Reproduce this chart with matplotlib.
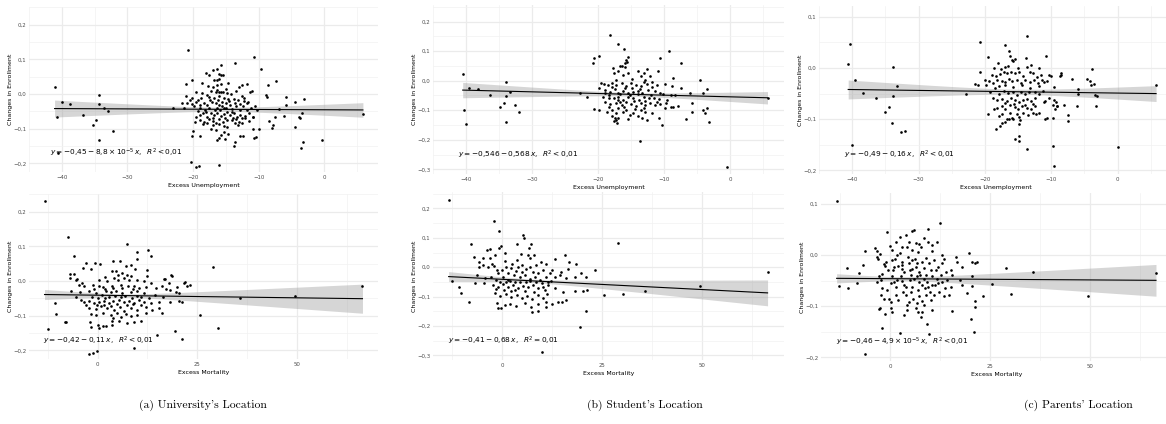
import numpy as np
import matplotlib
matplotlib.use("Agg")
import matplotlib.pyplot as plt
from matplotlib.ticker import FuncFormatter

# ---------------- data ----------------
univ_unemp = [
    (-41.1, 0.020), (-40.7, -0.067), (-40.0, -0.023), (-38.7, -0.028), (-36.8, -0.062), (-40.6, -0.170),
    (-35.3, -0.089), (-34.8, -0.075), (-34.3, -0.004), (-34.4, -0.029), (-33.6, -0.039), (-33.0, -0.048),
    (-34.3, -0.133), (-32.2, -0.107), (-23.1, -0.039), (-20.8, 0.127),
    (-10.7, 0.107), (-9.6, 0.073), (-7.4, 0.037), (-8.5, 0.027), (-5.9, -0.010), (-5.8, -0.031), (-4.4, -0.023),
    (-3.1, -0.014), (-6.9, -0.043), (-7.5, -0.067), (-6.1, -0.063), (-4.4, -0.094), (-3.9, -0.065), (-3.7, -0.070),
    (-3.4, -0.055), (-3.2, -0.138), (-3.6, -0.157), (-0.4, -0.133), (5.9, -0.057), (-8.4, -0.079), (-7.8, -0.090),
    (-8.0, -0.097), (-8.7, -0.010), (-8.8, -0.004), (-10.2, -0.046), (-10.7, -0.128), (-10.4, -0.123),
    (-10.8, -0.102), (-10.0, -0.102), (-10.9, -0.065),
    (-20.3, -0.195), (-19.6, -0.211), (-19.1, -0.209), (-16.0, -0.206), (-20.1, -0.120),
    (-13.6, 0.090), (-15.8, 0.083), (-16.3, 0.071), (-17.0, 0.069), (-18.0, 0.060), (-17.5, 0.054), (-16.1, 0.058),
    (-15.8, 0.055), (-15.5, 0.055), (-16.0, 0.042), (-16.3, 0.040), (-16.8, 0.040), (-20.1, 0.040), (-21.1, 0.028),
    (-18.6, 0.031), (-14.6, 0.032), (-15.8, 0.028), (-16.3, 0.027), (-17.7, 0.024), (-17.0, 0.020), (-12.5, 0.027),
    (-11.8, 0.029), (-13.0, 0.020), (-19.6, 0.006), (-18.7, 0.003), (-17.9, -0.002), (-16.5, 0.006), (-16.1, 0.005),
    (-15.8, 0.006), (-15.5, 0.005), (-14.8, 0.003), (-14.2, 0.000), (-11.3, 0.006), (-11.0, 0.008), (-12.6, -0.005),
    (-12.2, -0.012), (-21.0, -0.007), (-20.2, -0.012), (-19.2, -0.017), (-17.5, -0.009), (-16.8, -0.012),
    (-16.0, -0.007), (-15.3, -0.012), (-14.6, -0.015), (-13.8, -0.013), (-13.1, -0.017), (-11.6, -0.022),
    (-21.7, -0.026), (-20.9, -0.025), (-20.1, -0.028), (-19.5, -0.022), (-19.0, -0.031), (-18.3, -0.025),
    (-17.8, -0.031), (-17.1, -0.022), (-16.5, -0.026), (-16.0, -0.031), (-15.6, -0.022), (-15.0, -0.026),
    (-14.3, -0.031), (-13.6, -0.025), (-12.9, -0.028), (-12.4, -0.034), (-11.7, -0.026), (-10.6, -0.036),
    (-19.0, -0.041), (-17.5, -0.041), (-16.3, -0.041), (-15.3, -0.041), (-14.1, -0.044),
    (-19.2, -0.048), (-18.5, -0.054), (-18.0, -0.051), (-17.3, -0.056), (-16.8, -0.060), (-16.3, -0.054),
    (-15.8, -0.063), (-15.3, -0.058), (-14.8, -0.051), (-14.3, -0.060), (-13.8, -0.056), (-13.3, -0.065),
    (-12.9, -0.060), (-12.1, -0.063), (-11.4, -0.056), (-10.9, -0.065), (-19.7, -0.080), (-19.0, -0.075),
    (-18.3, -0.080), (-17.5, -0.073), (-17.0, -0.077), (-16.5, -0.083), (-16.0, -0.073), (-15.5, -0.080),
    (-14.8, -0.075), (-14.1, -0.075), (-13.5, -0.073), (-13.0, -0.080), (-12.6, -0.070), (-12.1, -0.070),
    (-18.5, -0.087), (-17.8, -0.085), (-17.0, -0.090), (-16.0, -0.087), (-15.3, -0.093), (-14.8, -0.096),
    (-13.6, -0.085), (-13.1, -0.090), (-20.0, -0.106), (-17.3, -0.102), (-16.5, -0.104), (-15.3, -0.109),
    (-15.8, -0.119), (-14.7, -0.116), (-12.9, -0.122), (-12.4, -0.122), (-18.9, -0.121), (-16.3, -0.133),
    (-15.1, -0.131), (-16.0, -0.126), (-13.6, -0.138), (-13.8, -0.151),
    (-20.5, -0.018), (-19.8, -0.036), (-18.8, -0.012), (-18.1, -0.045), (-17.4, -0.018), (-16.7, -0.047),
    (-16.2, -0.017), (-15.6, -0.035), (-15.1, -0.068), (-14.5, -0.021), (-14.0, -0.052), (-13.4, -0.036),
    (-12.8, -0.046), (-12.3, -0.020), (-11.8, -0.045), (-11.2, -0.040), (-17.9, -0.066), (-16.9, -0.070),
    (-15.9, -0.046), (-14.9, -0.041), (-13.9, -0.068), (-12.5, -0.083), (-11.5, -0.078), (-18.9, -0.060),
    (-19.6, -0.066), (-21.4, -0.040), (-16.4, 0.012), (-14.9, 0.015), (-13.4, 0.008), (-17.2, 0.010),
]

univ_mort = [
    (-13.3, 0.232), (-7.5, 0.126), (-6.0, 0.073), (-6.8, 0.021), (-5.2, 0.006), (-10.6, -0.063), (-10.3, -0.094),
    (-8.1, -0.118), (-12.5, -0.138), (7.3, 0.107), (12.7, 0.090), (13.4, 0.071), (29.0, 0.040), (25.6, -0.099),
    (30.2, -0.137), (35.8, -0.050), (49.6, -0.044), (66.5, -0.015), (19.4, -0.145), (21.1, -0.167), (14.9, -0.155),
    (9.2, -0.192), (-2.1, -0.211), (-1.25, -0.207), (-0.2, -0.202), (23.25, -0.011), (21.9, -0.004), (18.5, 0.016),
    (16.9, 0.006), (-6.7, -0.030), (-4.75, -0.012), (-5.5, -0.045), (-3.9, -0.005),
    (9.8, 0.084), (-2.9, 0.052), (-0.7, 0.052), (0.7, 0.049), (-3.6, 0.038), (-1.7, 0.036), (3.9, 0.057), (5.7, 0.057),
    (7.1, 0.042), (8.3, 0.045), (9.8, 0.063), (12.3, 0.033), (9.3, 0.035), (3.75, 0.028), (4.6, 0.028), (5.2, 0.018),
    (6.25, 0.023), (7.5, 0.018), (8.3, 0.013), (12.5, 0.013), (-6.8, 0.009), (-6.0, 0.020), (-5.4, 0.004),
    (1.8, 0.011), (0.4, 0.004), (2.5, -0.001), (4.2, 0.009), (5.2, 0.004), (6.7, 0.009), (7.9, 0.004), (10.0, 0.004),
    (11.7, -0.001), (13.3, -0.006), (16.7, 0.006), (18.75, 0.013), (17.9, -0.006), (21.7, -0.006),
    (-3.3, -0.013), (-1.25, -0.011), (0.4, -0.013), (1.25, -0.018), (3.75, -0.015), (5.8, -0.011), (7.7, -0.013),
    (9.2, -0.015), (10.4, -0.020), (12.1, -0.018), (14.6, -0.020), (16.25, -0.015), (17.1, -0.022), (18.3, -0.025),
    (20.0, -0.018), (22.5, -0.015), (-4.3, -0.032), (-2.1, -0.030), (-0.4, -0.035), (2.1, -0.030), (3.3, -0.032),
    (4.6, -0.028), (6.25, -0.035), (8.3, -0.032), (10.0, -0.030), (11.7, -0.035), (19.6, -0.032), (20.4, -0.035),
    (-4.2, -0.054), (-3.3, -0.061), (-2.1, -0.057), (-0.8, -0.063), (0.4, -0.061), (1.7, -0.057), (2.9, -0.063),
    (4.0, -0.059), (5.4, -0.054), (6.7, -0.061), (7.9, -0.057), (9.2, -0.063), (10.4, -0.054), (11.7, -0.061),
    (13.3, -0.063), (15.4, -0.061), (18.3, -0.061), (20.4, -0.057), (21.25, -0.061),
    (-2.1, -0.078), (-0.4, -0.080), (0.8, -0.073), (2.5, -0.078), (4.2, -0.083), (5.7, -0.076), (6.7, -0.086),
    (8.3, -0.078), (9.8, -0.083), (12.1, -0.076), (13.75, -0.083), (15.4, -0.078), (16.25, -0.092),
    (-1.7, -0.095), (-0.4, -0.097), (1.25, -0.092), (3.3, -0.099), (5.0, -0.092), (7.1, -0.095), (8.3, -0.102),
    (10.0, -0.097), (12.1, -0.092), (-7.9, -0.118), (-1.8, -0.118), (0.0, -0.126), (2.1, -0.131), (3.75, -0.116),
    (5.4, -0.114), (7.3, -0.121), (9.2, -0.118), (10.8, -0.114), (-1.7, -0.134), (0.4, -0.136), (1.25, -0.131),
    (3.75, -0.126),
    (-1.5, -0.045), (0.2, -0.048), (1.0, -0.041), (2.0, -0.050), (3.0, -0.046), (4.5, -0.044), (5.9, -0.047),
    (7.0, -0.044), (8.6, -0.048), (9.9, -0.042), (11.0, -0.046), (12.8, -0.048), (14.5, -0.040), (16.5, -0.046),
    (-0.8, -0.022), (1.9, -0.024), (4.0, -0.020), (6.2, -0.021), (8.8, -0.024), (-2.8, -0.070), (-0.2, -0.069),
    (1.6, -0.068), (3.4, -0.071), (5.0, -0.067), (7.3, -0.069), (9.0, -0.067), (11.0, -0.070), (3.9, -0.108),
    (6.0, -0.105),
]

stud_unemp = [
    (-40.5, 0.022), (-40.3, -0.100), (-40.0, -0.148), (-39.5, -0.024), (-38.2, -0.028), (-36.3, -0.050),
    (-34.9, -0.089), (-34.3, -0.075), (-33.9, -0.003), (-33.9, -0.052), (-34.0, -0.140), (-33.3, -0.038),
    (-32.6, -0.083), (-31.9, -0.106), (-22.7, -0.041), (-21.6, -0.055), (-20.8, 0.059), (-20.6, 0.078),
    (-19.9, 0.085), (-20.6, -0.095), (-19.8, -0.100), (-18.1, 0.156), (-17.0, 0.124), (-16.0, 0.107), (-9.2, 0.100),
    (-10.6, 0.076), (-7.4, 0.061), (-4.6, 0.002), (-4.1, -0.041), (-3.5, -0.030), (-4.1, -0.098), (-3.7, -0.111),
    (-3.4, -0.092), (-3.1, -0.140), (-5.8, -0.075), (-5.7, -0.106), (-6.7, -0.131), (-0.4, -0.291), (5.7, -0.058),
    (-10.3, -0.151), (-13.6, -0.205), (-7.4, -0.026), (-6.0, -0.041),
    (-15.7, 0.070), (-15.4, 0.080), (-15.96, 0.061), (-15.6, 0.064), (-16.7, 0.048), (-16.3, 0.050), (-15.96, 0.045),
    (-17.7, 0.042), (-16.9, 0.031), (-15.5, 0.027), (-16.2, 0.019), (-17.5, 0.025), (-13.9, 0.034), (-13.05, 0.027),
    (-12.6, 0.039), (-10.97, 0.034), (-12.1, 0.014), (-13.4, 0.016), (-12.8, 0.002), (-11.75, -0.003),
    (-11.1, -0.015), (-9.9, -0.011), (-8.8, -0.018), (-8.6, 0.010), (-19.1, -0.011), (-18.5, -0.015), (-19.5, -0.009),
    (-17.9, -0.009), (-17.2, -0.015), (-16.4, -0.009), (-15.7, -0.018), (-15.0, -0.009), (-14.3, -0.015),
    (-13.5, -0.018), (-12.6, -0.011), (-11.8, -0.020), (-19.8, -0.026), (-18.9, -0.032), (-18.1, -0.038),
    (-17.4, -0.030), (-16.9, -0.041), (-16.2, -0.034), (-15.5, -0.043), (-14.7, -0.038), (-14.0, -0.034),
    (-13.3, -0.041), (-12.4, -0.032), (-11.4, -0.034), (-10.6, -0.041), (-19.3, -0.055), (-18.4, -0.049),
    (-17.6, -0.060), (-16.9, -0.055), (-16.2, -0.064), (-15.5, -0.055), (-14.7, -0.060), (-13.8, -0.066),
    (-13.05, -0.055), (-12.3, -0.060), (-11.1, -0.072), (-10.2, -0.045), (-9.7, -0.075), (-10.6, -0.080),
    (-11.4, -0.083), (-18.9, -0.072), (-18.1, -0.080), (-17.2, -0.075), (-16.4, -0.083), (-15.7, -0.072),
    (-15.0, -0.080), (-14.3, -0.086), (-13.5, -0.077), (-12.8, -0.083), (-12.1, -0.075), (-18.6, -0.106),
    (-17.9, -0.100), (-16.9, -0.094), (-16.2, -0.106), (-15.7, -0.098), (-14.7, -0.109), (-13.5, -0.100),
    (-12.8, -0.106), (-11.8, -0.111), (-9.9, -0.091), (-9.0, -0.089), (-17.9, -0.120), (-17.4, -0.125),
    (-17.2, -0.134), (-17.55, -0.136), (-16.9, -0.128), (-15.5, -0.130), (-14.0, -0.120), (-13.3, -0.125),
    (-12.6, -0.132), (-10.7, -0.125), (-17.1, -0.145), (-8.9, -0.047), (-8.3, -0.050), (-7.9, -0.085),
    (-8.6, -0.090), (-9.5, -0.065),
    (-19.0, -0.042), (-18.3, -0.060), (-17.8, -0.022), (-17.0, -0.064), (-16.6, -0.044), (-15.9, -0.025),
    (-15.2, -0.048), (-14.5, -0.070), (-14.0, -0.046), (-13.6, -0.028), (-12.9, -0.068), (-12.0, -0.047),
    (-11.5, -0.058), (-10.8, -0.062), (-16.0, -0.088), (-14.4, -0.097), (-13.0, -0.092), (-18.3, -0.090),
    (-17.3, -0.110), (-15.2, -0.117), (-14.8, 0.005), (-13.0, -0.005), (-17.3, 0.002), (-16.6, -0.073),
    (-14.9, -0.024),
]

stud_mort = [
    (-13.3, 0.230), (-12.5, -0.047), (-10.6, -0.066), (-10.3, -0.089), (-8.1, -0.119), (-7.7, 0.078), (-6.7, -0.055),
    (-2.0, 0.156), (-0.75, 0.124), (29.0, 0.084), (25.5, -0.094), (30.1, -0.092), (35.7, -0.080), (49.4, -0.063),
    (66.3, -0.015), (19.4, -0.205), (10.0, -0.290), (21.1, -0.148), (23.2, -0.009),
    (5.25, 0.108), (5.5, 0.101), (-7.0, 0.036), (-3.75, 0.059), (-2.9, 0.061), (-1.8, 0.042), (-0.75, 0.067),
    (-0.2, 0.073), (0.7, 0.048), (3.8, 0.078), (6.75, 0.065), (7.3, 0.078), (6.5, 0.040), (3.8, 0.025), (6.9, 0.031),
    (-5.6, 0.002), (-4.75, 0.006), (-3.5, -0.001), (-2.1, 0.005), (-1.25, -0.009), (0.1, -0.009), (1.1, 0.002),
    (2.3, -0.003), (4.0, 0.002), (5.1, 0.008), (5.9, -0.006), (7.1, 0.002), (8.6, 0.008), (9.8, 0.017), (11.1, 0.010),
    (13.25, 0.028), (15.7, 0.042), (16.75, 0.017), (18.6, 0.010), (16.5, -0.006), (14.8, -0.015), (13.2, -0.032),
    (10.25, -0.009), (11.9, -0.020), (-6.2, -0.026), (-4.3, -0.038), (-2.7, -0.032), (-1.4, -0.043), (0.25, -0.035),
    (1.5, -0.043), (2.9, -0.028), (4.4, -0.035), (5.7, -0.026), (6.9, -0.040), (8.2, -0.032), (9.4, -0.043),
    (10.9, -0.035), (12.3, -0.047), (14.4, -0.026), (16.1, -0.038), (18.2, -0.032), (19.8, -0.020), (21.1, -0.032),
    (-4.5, -0.055), (-2.25, -0.060), (-1.0, -0.069), (0.25, -0.058), (1.5, -0.066), (2.75, -0.060), (4.0, -0.072),
    (5.25, -0.063), (6.5, -0.069), (7.75, -0.060), (9.0, -0.072), (10.25, -0.066), (11.5, -0.060), (13.2, -0.072),
    (15.25, -0.085), (18.2, -0.080), (20.25, -0.080), (21.3, -0.077), (-1.8, -0.089), (-0.6, -0.097), (1.1, -0.092),
    (2.3, -0.103), (3.75, -0.094), (5.1, -0.106), (6.25, -0.097), (7.6, -0.108), (9.0, -0.094), (10.25, -0.106),
    (11.25, -0.092), (14.0, -0.117), (16.1, -0.111), (15.1, -0.119), (-1.25, -0.123), (-0.2, -0.138), (0.7, -0.128),
    (1.9, -0.126), (3.6, -0.131), (5.7, -0.123), (7.3, -0.134), (9.0, -0.126), (10.9, -0.119), (11.1, -0.134),
    (12.4, -0.126), (-1.0, -0.140), (7.6, -0.153), (9.1, -0.148), (-5.6, 0.019), (-4.75, 0.031), (-3.0, 0.030),
    (-2.5, 0.011),
    (-0.5, -0.050), (1.0, -0.052), (2.0, -0.047), (3.2, -0.050), (4.6, -0.049), (6.0, -0.052), (7.0, -0.048),
    (8.5, -0.051), (10.0, -0.054), (11.6, -0.050), (-1.5, -0.075), (0.6, -0.079), (2.2, -0.082), (3.2, -0.077),
    (5.7, -0.080), (8.0, -0.083), (10.8, -0.078), (-0.9, -0.020), (1.5, -0.020), (3.4, -0.014), (5.1, -0.017),
    (7.7, -0.018), (9.0, -0.020), (12.6, -0.009), (0.7, 0.020), (2.6, 0.012), (4.7, 0.045), (8.0, 0.040),
]

par_unemp = [
    (-40.6, 0.007), (-40.3, 0.046), (-40.1, -0.150), (-39.5, -0.023), (-38.3, -0.049), (-36.4, -0.059),
    (-35.0, -0.086), (-34.4, -0.076), (-34.0, -0.107), (-33.9, 0.001), (-33.9, -0.054), (-33.3, -0.036),
    (-32.7, -0.125), (-32.0, -0.124), (-22.8, -0.051), (-21.5, -0.031), (-20.7, 0.050), (-20.7, -0.008),
    (-19.5, 0.021), (-19.5, -0.090), (-13.6, 0.062), (-10.8, 0.023), (-9.8, -0.152), (-9.6, -0.192),
    (-13.6, -0.158), (-6.8, -0.021), (-7.4, -0.091), (-7.4, -0.103), (-6.1, -0.074), (-5.9, -0.041), (-5.9, -0.050),
    (-4.6, -0.021), (-4.1, -0.025), (-3.9, -0.002), (-3.6, -0.031), (-4.0, -0.034), (-3.3, -0.075), (-3.4, -0.052),
    (-3.1, -0.055), (0.0, -0.154), (5.8, -0.033), (-8.6, -0.010), (-8.7, -0.015), (-8.5, -0.013), (-9.4, -0.081),
    (-9.2, -0.075), (-9.3, -0.066), (-9.7, -0.098), (-10.7, -0.098), (-11.0, -0.100),
    (-16.97, 0.044), (-16.4, 0.033), (-16.15, 0.024), (-15.9, 0.015), (-15.5, 0.017), (-15.76, 0.013), (-16.9, 0.002),
    (-16.5, 0.003), (-17.6, -0.002), (-18.6, -0.001), (-13.8, 0.020), (-13.1, 0.005), (-13.7, 0.002),
    (-18.9, -0.013), (-18.3, -0.015), (-17.7, -0.011), (-17.1, -0.008), (-16.6, -0.010), (-16.1, -0.007),
    (-15.4, -0.010), (-14.9, -0.008), (-13.2, -0.007), (-12.75, -0.010), (-11.6, -0.013), (-10.3, -0.013),
    (-10.0, -0.016), (-11.15, -0.028), (-10.7, -0.026), (-20.0, -0.024), (-19.4, -0.026), (-18.8, -0.029),
    (-18.1, -0.023), (-17.45, -0.026), (-17.0, -0.028), (-16.4, -0.021), (-15.9, -0.026), (-15.2, -0.023),
    (-14.55, -0.029), (-14.0, -0.024), (-13.2, -0.028), (-12.6, -0.023), (-12.0, -0.029), (-11.4, -0.023),
    (-21.0, -0.034), (-19.8, -0.033), (-17.8, -0.036), (-16.9, -0.034), (-15.7, -0.037), (-14.45, -0.034),
    (-13.2, -0.039), (-11.8, -0.036), (-9.6, -0.037), (-18.8, -0.059), (-18.2, -0.062), (-17.4, -0.060),
    (-16.6, -0.065), (-16.0, -0.059), (-15.4, -0.063), (-14.9, -0.067), (-14.2, -0.062), (-13.6, -0.060),
    (-13.0, -0.065), (-12.4, -0.059), (-11.0, -0.065), (-10.3, -0.059), (-9.6, -0.063), (-9.1, -0.074),
    (-9.8, -0.072), (-18.7, -0.081), (-18.1, -0.078), (-17.4, -0.075), (-16.9, -0.080), (-16.15, -0.072),
    (-15.5, -0.076), (-15.0, -0.081), (-14.45, -0.074), (-13.7, -0.078), (-13.0, -0.081), (-12.5, -0.075),
    (-11.8, -0.087), (-11.1, -0.067), (-8.1, -0.072), (-17.9, -0.094), (-17.45, -0.089), (-16.6, -0.100),
    (-15.9, -0.098), (-14.9, -0.096), (-14.2, -0.088), (-12.75, -0.088), (-12.3, -0.089), (-18.3, -0.119),
    (-17.7, -0.114), (-17.45, -0.107), (-16.9, -0.106), (-16.3, -0.100), (-15.8, -0.100), (-14.9, -0.109),
    (-14.7, -0.102), (-15.5, -0.139), (-14.8, -0.133), (-14.9, -0.143),
    (-19.2, -0.046), (-18.5, -0.040), (-17.8, -0.050), (-17.1, -0.044), (-16.5, -0.049), (-15.8, -0.046),
    (-15.1, -0.052), (-14.5, -0.047), (-13.9, -0.050), (-13.3, -0.047), (-12.5, -0.046), (-11.9, -0.050),
    (-11.2, -0.045), (-17.0, -0.068), (-15.6, -0.070), (-14.0, -0.072), (-12.8, -0.070), (-16.2, -0.088),
    (-15.2, -0.090), (-13.5, -0.092), (-18.0, 0.010), (-15.0, 0.000), (-14.3, -0.015), (-12.2, -0.018),
    (-11.8, 0.000),
]

par_mort = [
    (-13.3, 0.106), (-12.6, -0.061), (-10.7, -0.026), (-10.4, -0.064), (-8.2, -0.054), (-7.6, -0.036),
    (-6.7, -0.020), (-6.1, -0.194), (-6.25, 0.007), (-3.6, 0.013), (-3.3, 0.008), (-0.8, 0.044), (0.0, 0.018),
    (-1.9, -0.142), (2.4, -0.152), (9.75, -0.155), (6.0, 0.048), (9.6, 0.051), (12.5, 0.062), (19.75, 0.003),
    (20.6, -0.013), (21.25, -0.015), (21.8, -0.014), (20.4, -0.061), (20.6, -0.042), (21.25, -0.090),
    (21.25, -0.101), (20.2, -0.125), (21.0, -0.150), (23.3, -0.081), (25.6, -0.057), (28.9, -0.025), (30.2, -0.076),
    (35.75, -0.033), (49.5, -0.081), (66.4, -0.036), (15.6, -0.109), (19.3, -0.075), (18.1, -0.059), (17.5, -0.049),
    (16.8, -0.013), (16.4, -0.003), (18.1, -0.023),
    (-3.3, -0.003), (-2.9, -0.007), (-2.6, 0.001), (-1.5, -0.018), (-1.3, -0.021), (-1.1, -0.013), (-1.9, -0.038),
    (-2.75, -0.042), (-2.3, -0.049), (-3.2, -0.052), (-1.9, -0.065), (-2.3, -0.078), (-1.5, -0.085), (-2.6, -0.103),
    (-2.75, -0.106), (-1.25, -0.116), (-0.25, -0.086), (0.2, -0.091), (0.2, -0.104), (0.4, -0.111), (1.4, -0.078),
    (1.6, -0.062), (1.0, -0.053), (0.6, -0.042), (0.75, -0.029), (1.0, -0.023), (0.4, -0.010), (1.25, -0.007),
    (1.8, 0.000), (2.4, 0.003), (2.9, -0.013), (3.1, -0.020), (3.5, -0.033), (2.7, -0.042), (2.9, -0.051),
    (3.5, -0.059), (3.25, -0.072), (3.9, -0.078), (4.3, -0.098), (4.2, -0.107), (4.75, -0.091), (5.2, -0.072),
    (5.6, -0.062), (4.9, -0.049), (5.2, -0.039), (5.4, -0.027), (4.75, -0.016), (5.6, -0.010), (6.25, -0.007),
    (6.8, -0.016), (6.4, -0.023), (7.25, -0.033), (6.8, -0.042), (7.25, -0.052), (7.9, -0.059), (7.1, -0.068),
    (7.25, -0.081), (6.8, -0.094), (6.4, -0.104), (7.1, -0.111), (7.7, -0.122), (8.1, -0.111), (8.5, -0.098),
    (8.9, -0.078), (8.75, -0.065), (9.3, -0.052), (8.9, -0.039), (8.5, -0.026), (8.1, -0.013), (9.1, -0.005),
    (9.75, -0.016), (10.2, -0.029), (10.6, -0.042), (10.4, -0.059), (9.9, -0.072), (10.2, -0.088), (10.6, -0.107),
    (9.3, -0.134), (11.4, -0.029), (11.8, -0.046), (11.25, -0.059), (12.25, -0.072), (13.1, -0.052), (12.7, -0.039),
    (12.1, -0.023), (13.1, -0.016), (13.5, -0.007), (14.1, -0.033), (14.3, -0.049), (13.75, -0.065), (15.2, -0.029),
    (15.6, -0.039), (15.2, -0.062), (14.75, -0.078), (11.8, 0.026), (10.6, 0.020), (7.7, 0.016), (4.75, 0.026),
    (3.9, 0.039), (4.3, 0.016), (8.5, 0.034), (9.4, 0.026), (10.6, 0.007), (5.6, 0.010), (3.1, 0.016), (2.4, 0.036),
    (1.4, 0.026), (0.6, 0.010), (5.4, 0.046), (12.9, -0.001), (6.6, 0.023), (7.25, 0.022),
    (-0.5, -0.030), (0.2, -0.055), (1.8, -0.048), (2.0, -0.088), (3.0, -0.028), (4.1, -0.062), (4.5, -0.004),
    (5.8, -0.085), (6.0, -0.046), (7.6, -0.040), (8.0, -0.090), (9.6, -0.062), (11.0, -0.010), (12.0, -0.054),
    (13.6, -0.080), (6.9, 0.005), (3.6, -0.118), (-0.8, -0.068), (2.1, -0.021), (8.6, -0.046), (10.9, -0.079),
    (4.9, -0.030),
]

# fitted lines (end points) and 95% band half-widths (left, narrowest, right)
fit_x = [[(-41.1, 5.9), (-13.3, 66.5)], [(-40.5, 5.7), (-13.3, 66.3)], [(-40.6, 5.8), (-13.3, 66.4)]]
fit_y = [[(-0.042, -0.046), (-0.039, -0.051)], [(-0.032, -0.058), (-0.032, -0.0875)],
         [(-0.042, -0.050), (-0.0456, -0.0495)]]
band_hw = [[(0.0245, 0.006, 0.021), (0.0145, 0.005, 0.042)],
           [(0.026, 0.006, 0.021), (0.017, 0.006, 0.044)],
           [(0.0185, 0.005, 0.0155), (0.009, 0.004, 0.031)]]

x_titles = ["Excess Unemployment", "Excess Mortality"]
y_title = "Changes in Enrollment"
captions = ["(a) University's Location", "(b) Student's Location", "(c) Parents' Location"]
equations = [
    [r"$y = -0{,}45 - 8{,}8 \times 10^{-5}\,x,\;\;R^2 < 0{,}01$",
     r"$y = -0{,}42 - 0{,}11\,x,\;\;R^2 < 0{,}01$"],
    [r"$y = -0{,}546 - 0{,}568\,x,\;\;R^2 < 0{,}01$",
     r"$y = -0{,}41 - 0{,}68\,x,\;\;R^2 = 0{,}01$"],
    [r"$y = -0{,}49 - 0{,}16\,x,\;\;R^2 < 0{,}01$",
     r"$y = -0{,}46 - 4{,}9 \times 10^{-5}\,x,\;\;R^2 < 0{,}01$"],
]
eq_pos = [[(-41.8, -0.170), (-13.7, -0.172)],
          [(-41.2, -0.250), (-13.5, -0.250)],
          [(-41.2, -0.170), (-13.5, -0.169)]]
panels = [[univ_unemp, univ_mort], [stud_unemp, stud_mort], [par_unemp, par_mort]]

x_major = [[-40, -30, -20, -10, 0], [0, 25, 50]]
x_minor = [[-45, -35, -25, -15, -5, 5], [-12.5, 12.5, 37.5, 62.5]]
y_major = [[-0.2, -0.1, 0.0, 0.1, 0.2], [-0.3, -0.2, -0.1, 0.0, 0.1, 0.2], [-0.2, -0.1, 0.0, 0.1]]
y_minor = [[-0.15, -0.05, 0.05, 0.15, 0.25], [-0.25, -0.15, -0.05, 0.05, 0.15, 0.25],
           [-0.15, -0.05, 0.05]]
y_lims = [(-0.225, 0.251), (-0.316, 0.256), (-0.207, 0.121)]
x_lims = [(-43.2, 8.2), (-17.2, 70.4)]

# ---------------- layout ----------------
W, H = 1166, 424
fig = plt.figure(figsize=(W / 100, H / 100), dpi=100)
boxes = [[(29, 7, 378, 172), (29, 194, 378, 359)],
         [(433, 5, 784, 174), (433, 192, 784, 360)],
         [(819, 6, 1172, 174), (821, 193, 1172, 361)]]


def yfmt(v, pos):
    return ("%.1f" % v).replace(".", ",").replace("-", "\u2212").replace("\u22120,0", "0,0")


def xfmt(v, pos):
    return ("%g" % v).replace("-", "\u2212")


for c in range(3):
    for r in range(2):
        l, t, rr, b = boxes[c][r]
        ax = fig.add_axes([l / W, 1 - b / H, (rr - l) / W, (b - t) / H])
        pts = np.array(panels[c][r])
        x, y = pts[:, 0], pts[:, 1]
        ax.set_xlim(*x_lims[r])
        ax.set_ylim(*y_lims[c])
        ax.set_xticks(x_major[r])
        ax.set_xticks(x_minor[r], minor=True)
        ax.set_yticks(y_major[c])
        ax.set_yticks(y_minor[c], minor=True)
        ax.xaxis.set_major_formatter(FuncFormatter(xfmt))
        ax.yaxis.set_major_formatter(FuncFormatter(yfmt))
        ax.grid(True, which="major", color="#ebebeb", lw=0.9)
        ax.grid(True, which="minor", color="#f2f2f2", lw=0.5)
        ax.set_axisbelow(True)
        for sp in ax.spines.values():
            sp.set_visible(False)
        ax.tick_params(which="both", length=0)
        ax.tick_params(axis="x", labelsize=3.9, labelcolor="#4d4d4d", pad=2.5)
        ax.tick_params(axis="y", labelsize=3.9, labelcolor="#4d4d4d", pad=1.8)

        # fitted line with confidence band (hyperbolic, as for a linear model)
        xl, xr = fit_x[c][r]
        yl, yr = fit_y[c][r]
        hl, hm, hr = band_hw[c][r]
        xs = np.linspace(xl, xr, 150)
        fit = yl + (yr - yl) * (xs - xl) / (xr - xl)
        ratio = np.sqrt((hl ** 2 - hm ** 2) / (hr ** 2 - hm ** 2))
        xc = (xl + ratio * xr) / (1 + ratio)
        k = (hl ** 2 - hm ** 2) / (xc - xl) ** 2
        hw = np.sqrt(hm ** 2 + k * (xs - xc) ** 2)
        ax.fill_between(xs, fit - hw, fit + hw, color="#999999", alpha=0.4, lw=0, zorder=2)
        ax.scatter(x, y, s=3.6, color="black", lw=0, zorder=3)
        ax.plot(xs, fit, color="black", lw=0.8, zorder=4)

        ax.text(eq_pos[c][r][0], eq_pos[c][r][1], equations[c][r], fontsize=5.3,
                ha="left", va="center", zorder=5)
        ax.set_xlabel(x_titles[r], fontsize=4.5, labelpad=1.5)
        ax.set_ylabel(y_title, fontsize=4.5, labelpad=0.3)

cap_x = [203, 645, 1078]
for c in range(3):
    fig.text(cap_x[c] / W, 1 - 405 / H, captions[c], family=["cmr10", "DejaVu Serif"], fontsize=8.4,
             ha="center", va="center")

fig.savefig("out.png", dpi=100)
